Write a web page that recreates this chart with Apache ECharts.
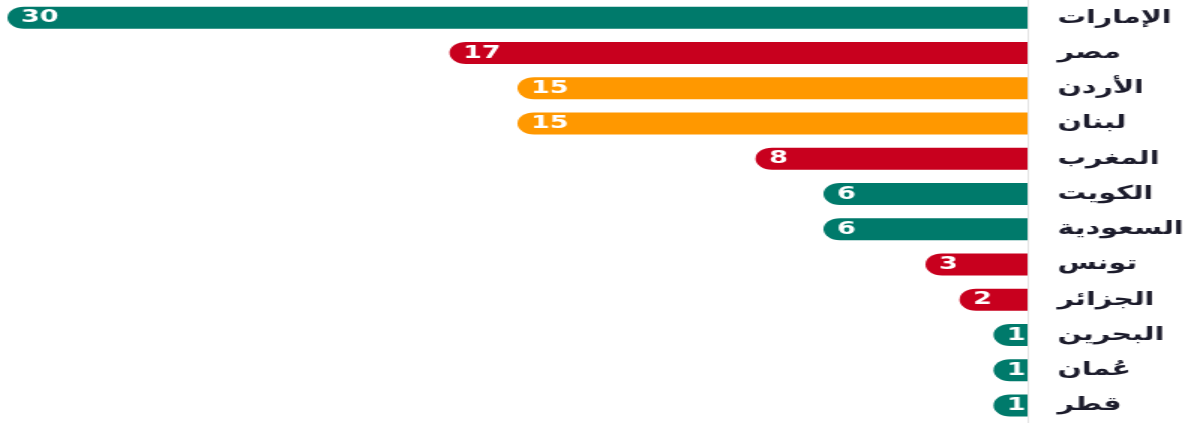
<!DOCTYPE html>
<html lang="ar">
<head>
    <meta charset="UTF-8">
    <title>Chart</title>
    <script src="https://cdn.jsdelivr.net/npm/echarts@6/dist/echarts.min.js"></script>
    <style>
        html, body { margin: 0; padding: 0; background: #fff; overflow: hidden; }
        /* the source picture is stretched sideways, so the chart is drawn narrow and widened */
        #ec { transform: scaleX(1.5); transform-origin: 0 0; }
    </style>
</head>
<body>
    <div id="ec" style="width:797px;height:423px"></div>
</body>
<script>
    // data, top to bottom
    var countries = ['الإمارات', 'مصر', 'الأردن', 'لبنان', 'المغرب', 'الكويت', 'السعودية', 'تونس', 'الجزائر', 'البحرين', 'عُمان', 'قطر']
    var values = [30, 17, 15, 15, 8, 6, 6, 3, 2, 1, 1, 1]
    var regions = ['gulf', 'maghreb', 'levant', 'levant', 'maghreb', 'gulf', 'gulf', 'maghreb', 'maghreb', 'gulf', 'gulf', 'gulf']

    var regionColor = {
        gulf: '#007a6b',
        maghreb: '#c8001e',
        levant: '#ff9800'
    }

    var mychart = echarts.init(document.getElementById('ec'))

    var options = {
        animation: false,
        grid: {
            left: 5,
            right: 112,
            top: 0,
            bottom: 0
        },
        xAxis: {
            type: 'value',
            inverse: true,
            min: 0,
            max: 30,
            show: false
        },
        yAxis: {
            type: 'category',
            inverse: true,
            position: 'right',
            data: countries,
            axisLine: { show: true, lineStyle: { color: '#e4e4e4', width: 1 } },
            axisTick: { show: false },
            axisLabel: {
                align: 'left',
                margin: 20,
                color: '#1c1c2c',
                fontSize: 19,
                fontWeight: 'bold',
                fontFamily: 'DejaVu Sans'
            }
        },
        series: [{
            type: 'bar',
            barWidth: 22,
            data: values.map(function (v, i) {
                return {
                    value: v,
                    itemStyle: { color: regionColor[regions[i]] }
                }
            }),
            itemStyle: {
                borderRadius: [11, 0, 0, 11]
            },
            label: {
                show: true,
                position: 'insideLeft',
                distance: 9,
                color: '#fff',
                fontSize: 18,
                fontWeight: 'bold',
                fontFamily: 'DejaVu Sans'
            }
        }]
    }
    mychart.setOption(options)
</script>
</html>
